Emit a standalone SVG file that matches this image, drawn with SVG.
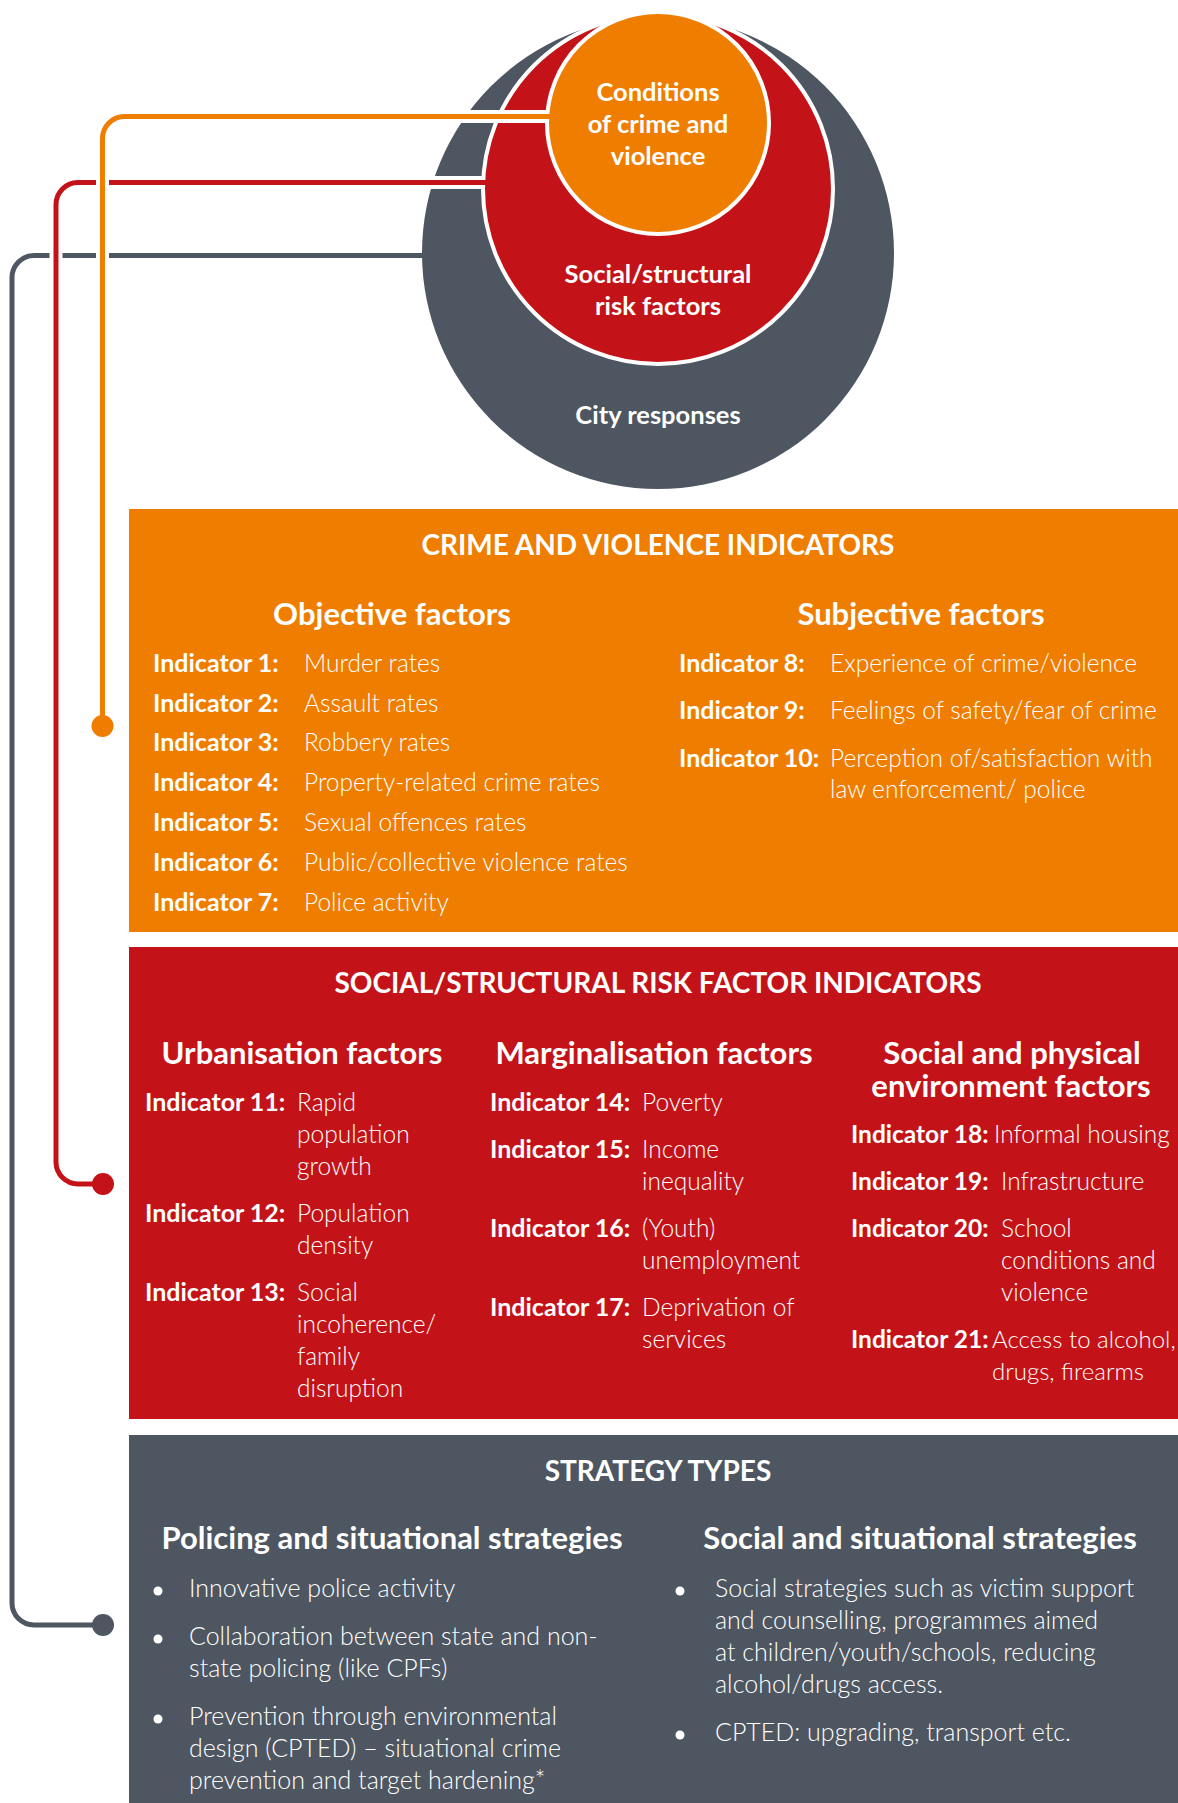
<svg xmlns="http://www.w3.org/2000/svg" width="1178" height="1803" viewBox="0 0 1178 1803">
<style>
text{font-family:Lato,"Liberation Sans",sans-serif;fill:#fff}
.ct{font-size:25.5px;font-weight:700;text-anchor:middle}
.h1{font-size:28px;font-weight:700;text-anchor:middle}
.h2{font-size:31px;font-weight:700;text-anchor:middle}
.b{font-size:25px;font-weight:700}
.bs{font-size:24.5px;font-weight:700}
.l{font-size:24.5px;font-weight:300}
.ls{font-size:24px;font-weight:300}
.p{font-size:25px;font-weight:300}
.cas{fill:none;stroke:#fff;stroke-width:13}
.ln{fill:none;stroke-width:5}
.bul{fill:#fff}
</style>
<rect width="1178" height="1803" fill="#fff"/>
<g id="city-responses">
<circle cx="658" cy="253" r="236" fill="#4E5661"/>
<text class="ct" x="658" y="424">City responses</text>
</g>
<g id="risk-factors">
<circle cx="658" cy="189" r="175" fill="#C41318" stroke="#fff" stroke-width="4"/>
<text class="ct" x="658" y="283">Social/structural</text>
<text class="ct" x="658" y="315">risk factors</text>
</g>
<g id="conditions">
<circle cx="658" cy="123" r="111" fill="#EF7D00" stroke="#fff" stroke-width="4"/>
<text class="ct" x="658" y="101">Conditions</text>
<text class="ct" x="658" y="133">of crime and</text>
<text class="ct" x="658" y="165">violence</text>
</g>
<g id="connectors">
<path class="ln" stroke="#4E5661" d="M423 255.5H34A22 22 0 0 0 12 277.5V1603A22 22 0 0 0 34 1625H103"/>
<circle cx="103" cy="1625" r="11" fill="#4E5661"/>
<path class="cas" d="M483 182.5H78A22 22 0 0 0 56 204.5V1162A22 22 0 0 0 78 1184H96"/>
<path class="ln" stroke="#C41318" d="M487 182.5H78A22 22 0 0 0 56 204.5V1162A22 22 0 0 0 78 1184H103"/>
<circle cx="103" cy="1184" r="11" fill="#C41318"/>
<path class="cas" d="M546 116.5H124.5A22 22 0 0 0 102.5 138.5V720"/>
<path class="ln" stroke="#EF7D00" d="M550 116.5H124.5A22 22 0 0 0 102.5 138.5V726"/>
<circle cx="102.5" cy="726" r="11" fill="#EF7D00"/>
</g>
<g id="crime-violence-indicators">
<rect x="129" y="509" width="1049" height="423" fill="#EF7D00"/>
<text class="h1" x="658" y="555">CRIME AND VIOLENCE INDICATORS</text>
<text class="h2" x="392" y="625">Objective factors</text>
<text class="h2" x="921" y="625">Subjective factors</text>
<text class="b" x="153" y="672">Indicator 1:</text><text class="l" x="304" y="672">Murder rates</text>
<text class="b" x="153" y="712">Indicator 2:</text><text class="l" x="304" y="712">Assault rates</text>
<text class="b" x="153" y="751">Indicator 3:</text><text class="l" x="304" y="751">Robbery rates</text>
<text class="b" x="153" y="791">Indicator 4:</text><text class="l" x="304" y="791">Property-related crime rates</text>
<text class="b" x="153" y="831">Indicator 5:</text><text class="l" x="304" y="831">Sexual offences rates</text>
<text class="b" x="153" y="871">Indicator 6:</text><text class="l" x="304" y="871">Public/collective violence rates</text>
<text class="b" x="153" y="911">Indicator 7:</text><text class="l" x="304" y="911">Police activity</text>
<text class="b" x="679" y="672">Indicator 8:</text><text class="l" x="830" y="672">Experience of crime/violence</text>
<text class="b" x="679" y="719">Indicator 9:</text><text class="l" x="830" y="719">Feelings of safety/fear of crime</text>
<text class="b" x="679" y="767">Indicator 10:</text><text class="l" x="830" y="767">Perception of/satisfaction with</text>
<text class="l" x="830" y="798">law enforcement/ police</text>
</g>
<g id="risk-factor-indicators">
<rect x="129" y="947" width="1049" height="472" fill="#C41318"/>
<text class="h1" x="658" y="993">SOCIAL/STRUCTURAL RISK FACTOR INDICATORS</text>
<text class="h2" x="302" y="1064">Urbanisation factors</text>
<text class="h2" x="654" y="1064">Marginalisation factors</text>
<text class="h2" x="1012" y="1064">Social and physical</text>
<text class="h2" x="1011" y="1097">environment factors</text>
<text class="b" x="145" y="1111">Indicator 11:</text><text class="l" x="297" y="1111">Rapid</text>
<text class="l" x="297" y="1143">population</text>
<text class="l" x="297" y="1175">growth</text>
<text class="b" x="145" y="1222">Indicator 12:</text><text class="l" x="297" y="1222">Population</text>
<text class="l" x="297" y="1254">density</text>
<text class="b" x="145" y="1301">Indicator 13:</text><text class="l" x="297" y="1301">Social</text>
<text class="l" x="297" y="1333">incoherence/</text>
<text class="l" x="297" y="1365">family</text>
<text class="l" x="297" y="1397">disruption</text>
<text class="b" x="490" y="1111">Indicator 14:</text><text class="l" x="642" y="1111">Poverty</text>
<text class="b" x="490" y="1158">Indicator 15:</text><text class="l" x="642" y="1158">Income</text>
<text class="l" x="642" y="1190">inequality</text>
<text class="b" x="490" y="1237">Indicator 16:</text><text class="l" x="642" y="1237">(Youth)</text>
<text class="l" x="642" y="1269">unemployment</text>
<text class="b" x="490" y="1316">Indicator 17:</text><text class="l" x="642" y="1316">Deprivation of</text>
<text class="l" x="642" y="1348">services</text>
<text class="bs" x="851" y="1143">Indicator 18:</text><text class="l" x="994" y="1143">Informal housing</text>
<text class="bs" x="851" y="1190">Indicator 19:</text><text class="l" x="1001" y="1190">Infrastructure</text>
<text class="bs" x="851" y="1237">Indicator 20:</text><text class="l" x="1001" y="1237">School</text>
<text class="l" x="1001" y="1269">conditions and</text>
<text class="l" x="1001" y="1301">violence</text>
<text class="bs" x="851" y="1348">Indicator 21:</text><text class="ls" x="992" y="1348">Access to alcohol,</text>
<text class="ls" x="992" y="1380">drugs, firearms</text>
</g>
<g id="strategy-types">
<rect x="129" y="1435" width="1049" height="368" fill="#4E5661"/>
<text class="h1" x="658" y="1481">STRATEGY TYPES</text>
<text class="h2" x="392" y="1549">Policing and situational strategies</text>
<text class="h2" x="920" y="1549">Social and situational strategies</text>
<circle class="bul" cx="158" cy="1591" r="4.5"/>
<text class="p" x="189" y="1597">Innovative police activity</text>
<circle class="bul" cx="158" cy="1639" r="4.5"/>
<text class="p" x="189" y="1645">Collaboration between state and non-</text>
<text class="p" x="189" y="1677">state policing (like CPFs)</text>
<circle class="bul" cx="158" cy="1719" r="4.5"/>
<text class="p" x="189" y="1725">Prevention through environmental</text>
<text class="p" x="189" y="1757">design (CPTED) – situational crime</text>
<text class="p" x="189" y="1789">prevention and target hardening*</text>
<circle class="bul" cx="680" cy="1591" r="4.5"/>
<text class="p" x="715" y="1597">Social strategies such as victim support</text>
<text class="p" x="715" y="1629">and counselling, programmes aimed</text>
<text class="p" x="715" y="1661">at children/youth/schools, reducing</text>
<text class="p" x="715" y="1693">alcohol/drugs access.</text>
<circle class="bul" cx="680" cy="1735" r="4.5"/>
<text class="p" x="715" y="1741">CPTED: upgrading, transport etc.</text>
</g>
</svg>
